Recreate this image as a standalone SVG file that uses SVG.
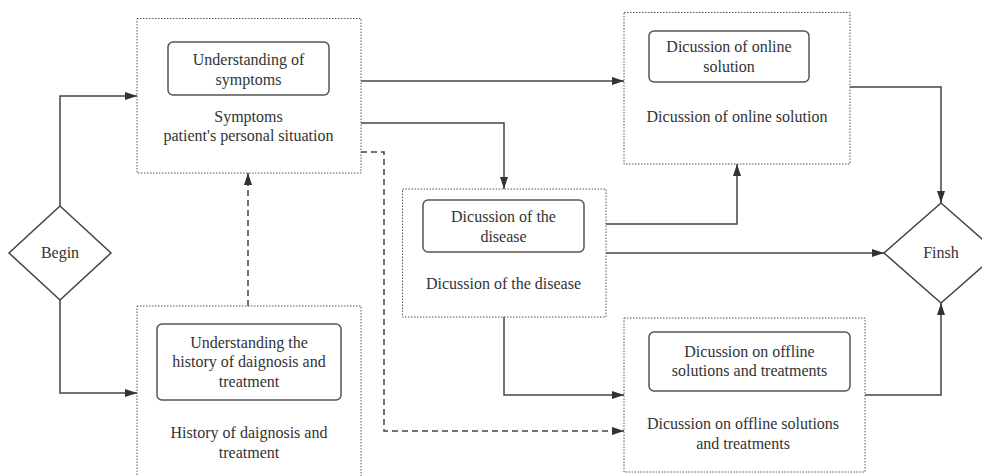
<svg xmlns="http://www.w3.org/2000/svg" width="982" height="476" viewBox="0 0 982 476">
<style>
.c{fill:none;stroke:#555;stroke-width:1;stroke-dasharray:1.5 1.5}
.r{fill:#fff;stroke:#555;stroke-width:1.5}
.d{fill:#fff;stroke:#444;stroke-width:1.5}
.t{font-family:'Liberation Serif','DejaVu Serif','Times New Roman',serif;font-size:16px;fill:#333;text-anchor:middle}
.l{fill:none;stroke:#444;stroke-width:1.5}
.ds{stroke-dasharray:6 4}
</style>
<defs>
<marker id="a" viewBox="0 0 12 8" refX="12" refY="4" markerWidth="12" markerHeight="8" markerUnits="userSpaceOnUse" orient="auto"><path d="M0,0 L12,4 L0,8 Z" fill="#333"/></marker>
</defs>
<rect width="982" height="476" fill="#fff"/>
<g id="connectors">
<path class="l" d="M60,206 V96 H137" marker-end="url(#a)"/>
<path class="l" d="M60,300 V393 H137" marker-end="url(#a)"/>
<path class="l ds" d="M248,306 V173" marker-end="url(#a)"/>
<path class="l" d="M361,81 H624" marker-end="url(#a)"/>
<path class="l" d="M361,123 H504 V189" marker-end="url(#a)"/>
<path class="l ds" d="M361,152 H384 V431 H624" marker-end="url(#a)"/>
<path class="l" d="M606,224 H737 V164" marker-end="url(#a)"/>
<path class="l" d="M606,253 H884" marker-end="url(#a)"/>
<path class="l" d="M504,317 V395 H624" marker-end="url(#a)"/>
<path class="l" d="M850,87 H941 V203" marker-end="url(#a)"/>
<path class="l" d="M865,395 H941 V303" marker-end="url(#a)"/>
</g>
<g id="begin">
<path class="d" d="M60,206 L111,253 L60,300 L9,253 Z"/>
<text class="t" x="60" y="258">Begin</text>
</g>
<g id="finish">
<path class="d" d="M941,203 L998,253 L941,303 L884,253 Z"/>
<text class="t" x="941" y="258">Finsh</text>
</g>
<g id="symptoms">
<rect class="c" x="137" y="18.5" width="224" height="154.5"/>
<rect class="r" x="168" y="42" width="161" height="53" rx="5"/>
<text class="t" x="248.5" y="65">Understanding of</text>
<text class="t" x="248.5" y="85">symptoms</text>
<text class="t" x="248.5" y="122">Symptoms</text>
<text class="t" x="248.5" y="141">patient's personal situation</text>
</g>
<g id="history">
<rect class="c" x="137" y="306" width="224" height="180"/>
<rect class="r" x="157" y="324" width="184" height="76" rx="5"/>
<text class="t" x="249" y="348">Understanding the</text>
<text class="t" x="249" y="367">history of daignosis and</text>
<text class="t" x="249" y="387">treatment</text>
<text class="t" x="249" y="438">History of daignosis and</text>
<text class="t" x="249" y="458">treatment</text>
</g>
<g id="online">
<rect class="c" x="624" y="12.5" width="226" height="151.5"/>
<rect class="r" x="649" y="31" width="160" height="51" rx="5"/>
<text class="t" x="729" y="52">Dicussion of online</text>
<text class="t" x="729" y="72">solution</text>
<text class="t" x="737" y="122">Dicussion of online solution</text>
</g>
<g id="disease">
<rect class="c" x="402.5" y="189" width="203.5" height="128"/>
<rect class="r" x="423" y="200" width="161" height="52" rx="5"/>
<text class="t" x="503.5" y="222">Dicussion of the</text>
<text class="t" x="503.5" y="242">disease</text>
<text class="t" x="503.5" y="289">Dicussion of the disease</text>
</g>
<g id="offline">
<rect class="c" x="624" y="318" width="241" height="154"/>
<rect class="r" x="649" y="332" width="201" height="59" rx="5"/>
<text class="t" x="749.5" y="357">Dicussion on offline</text>
<text class="t" x="749.5" y="376">solutions and treatments</text>
<text class="t" x="743" y="429">Dicussion on offline solutions</text>
<text class="t" x="743" y="449">and treatments</text>
</g>
</svg>
